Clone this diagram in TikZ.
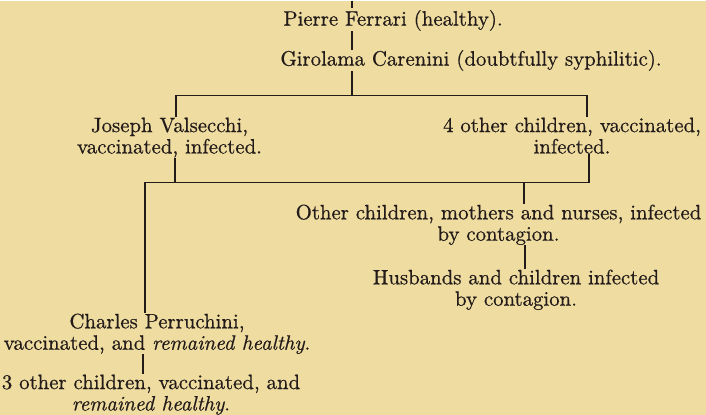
\documentclass[tikz,border=0pt]{standalone}
\usepackage{fontspec}
\setmainfont{lmroman10-regular.otf}[
  ItalicFont=lmroman10-italic.otf,
  UprightFeatures={FakeBold=0.6},
  ItalicFeatures={FakeBold=0.6}]
\definecolor{paper}{RGB}{238,220,160}
\definecolor{ink}{RGB}{34,27,25}
\tikzset{
  entry/.style={scale=2.08, inner sep=0pt, align=center, text=ink, font=\fontsize{10}{10.3}\selectfont},
  branch/.style={draw=ink, line width=1.2pt}
}
\begin{document}
\begin{tikzpicture}[x=1pt, y=-1pt]
  \fill[paper] (0,0) rectangle (706,414);

  \node[entry, anchor=base west] (pierre) at (283,25) {Pierre Ferrari (healthy).};
  \node[entry, anchor=base west] (girolama) at (280,65) {Girolama Carenini (doubtfully syphilitic).};

  \node[entry, anchor=north] (joseph) at (169.5,116.6) {Joseph Valsecchi,\\vaccinated, infected.};
  \node[entry, anchor=north] (four) at (572,116.6) {4 other children, vaccinated,\\infected.};

  \node[entry, anchor=north] (other) at (498.5,203.6) {Other children, mothers and nurses, infected\\by contagion.};
  \node[entry, anchor=north] (husbands) at (516,268.6) {Husbands and children infected\\by contagion.};

  \node[entry, anchor=north] (charles) at (157,312.6) {Charles Perruchini,\\vaccinated, and \textit{remained healthy}.};
  \node[entry, anchor=north] (three) at (151,373.6) {3 other children, vaccinated, and\\\textit{remained healthy}.};

  \coordinate (top) at (352,0);
  \coordinate (g1) at (352,95);
  \coordinate (j1) at (176,95);
  \coordinate (f1) at (587,95);
  \coordinate (j2) at (175,182);
  \coordinate (f2) at (589,182);
  \coordinate (c2) at (145,182);
  \coordinate (o2) at (524,182);

  \draw[branch] (top) -- ([yshift=2pt]top |- pierre.north);
  \draw[branch] (pierre.south -| top) -- (girolama.north -| top);
  \draw[branch] (girolama.south -| g1) -- (g1);
  \draw[branch] (joseph.north -| j1) -- (j1) -- (f1) -- (four.north -| f1);
  \draw[branch] (joseph.south -| j2) -- (j2);
  \draw[branch] (four.south -| f2) -- (f2) -- (c2) -- (charles.north -| c2);
  \draw[branch] (o2) -- (other.north -| o2);
  \draw[branch] (other.south -| 525,0) -- (husbands.north -| 525,0);
  \draw[branch] (charles.south -| 143,0) -- (three.north -| 143,0);
\end{tikzpicture}
\end{document}
